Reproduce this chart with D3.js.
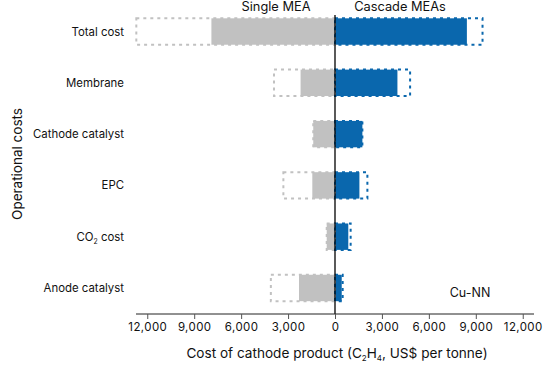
<!DOCTYPE html>
<meta charset="utf-8">
<style>
body { margin: 0; background: #fff; }
text { font-family: Inter, "Liberation Sans", Arial, sans-serif; fill: #111; }
</style>
<html>
<body>
<svg id="chart" width="548" height="372"></svg>
</body>
</html>
<script src="https://d3js.org/d3.v7.min.js"></script>
<script type="text/javascript">
// categories top to bottom
var categories = ["Total cost", "Membrane", "Cathode catalyst", "EPC", "CO2 cost", "Anode catalyst"];
// single MEA (drawn to the left), solid and dashed
var singleSolid = [7900, 2200, 1390, 1450, 530, 2300];
var singleDashed = [12700, 3900, 1390, 3300, 530, 4100];
// cascade MEAs (drawn to the right)
var cascadeSolid = [8430, 3990, 1750, 1560, 850, 430];
var cascadeDashed = [9430, 4800, 1750, 2070, 1000, 490];
var tickValues = [-12000, -9000, -6000, -3000, 0, 3000, 6000, 9000, 12000];

var grey = "#c1c1c1", blue = "#0a67ad";

var svg = d3.select("#chart");

var x = d3.scaleLinear().domain([-12720, 12720]).range([136, 534]);
var y = d3.scaleBand().domain(categories).range([5.5, 314]).paddingInner(0.485).paddingOuter(0.25);

// solid bars
function solid(vals, sign, col) {
  svg.selectAll(null).data(vals).enter().append("rect")
    .attr("x", function(d) { return sign < 0 ? x(-d) : x(0); })
    .attr("y", function(d, i) { return y(categories[i]); })
    .attr("width", function(d) { return Math.abs(x(d) - x(0)); })
    .attr("height", y.bandwidth())
    .attr("fill", col);
}
function dashed(vals, sign, col) {
  svg.selectAll(null).data(vals).enter().append("rect")
    .attr("x", function(d) { return sign < 0 ? x(-d) : x(0); })
    .attr("y", function(d, i) { return y(categories[i]); })
    .attr("width", function(d) { return Math.abs(x(d) - x(0)); })
    .attr("height", y.bandwidth())
    .attr("fill", "none")
    .attr("stroke", col)
    .attr("stroke-width", 2)
    .attr("stroke-dasharray", "3,4");
}
solid(singleSolid, -1, grey);
solid(cascadeSolid, 1, blue);
dashed(singleDashed, -1, grey);
dashed(cascadeDashed, 1, blue);

// zero line
svg.append("line")
  .attr("x1", x(0)).attr("x2", x(0))
  .attr("y1", 15).attr("y2", 314)
  .attr("stroke", "#000").attr("stroke-width", 1.3);

// x axis
var xAxis = svg.append("g")
  .attr("transform", "translate(0,314)")
  .call(d3.axisBottom(x).tickValues(tickValues).tickSize(5).tickPadding(4)
    .tickFormat(function(d) { return d3.format(",")(Math.abs(d)); }));
xAxis.select(".domain").attr("stroke", "#222").attr("d", "M136,0H534");
xAxis.selectAll(".tick line").attr("stroke", "#555");
xAxis.selectAll("text").style("font-size", "11.5px").style("letter-spacing", "0.4px").attr("fill", "#111");

// category labels
svg.selectAll(null).data(categories).enter().append("text")
  .attr("x", 124)
  .attr("y", function(d) { return y(d) + y.bandwidth() / 2 + 4; })
  .attr("text-anchor", "end")
  .style("font-size", "11.4px")
  .each(function(d) {
    var t = d3.select(this);
    if (d == "CO2 cost") {
      t.append("tspan").text("CO");
      t.append("tspan").text("2").style("font-size", "7px").attr("dy", 3);
      t.append("tspan").text(" cost").attr("dy", -3);
    } else {
      t.text(d);
    }
  });

// titles
svg.append("text").attr("x", 276).attr("y", 11).attr("text-anchor", "middle")
  .style("font-size", "12.8px").text("Single MEA");
svg.append("text").attr("x", 400).attr("y", 11).attr("text-anchor", "middle")
  .style("font-size", "12.8px").text("Cascade MEAs");

svg.append("text").attr("transform", "translate(22,164) rotate(-90)")
  .attr("text-anchor", "middle").style("font-size", "13.5px").text("Operational costs");

var xt = svg.append("text").attr("x", 337).attr("y", 358).attr("text-anchor", "middle")
  .style("font-size", "13.6px");
xt.append("tspan").text("Cost of cathode product (C");
xt.append("tspan").text("2").style("font-size", "8px").attr("dy", 3);
xt.append("tspan").text("H").attr("dy", -3);
xt.append("tspan").text("4").style("font-size", "8px").attr("dy", 3);
xt.append("tspan").text(", US$ per tonne)").attr("dy", -3);

svg.append("text").attr("x", 470).attr("y", 297).attr("text-anchor", "middle")
  .style("font-size", "12.5px").text("Cu-NN");
</script>
